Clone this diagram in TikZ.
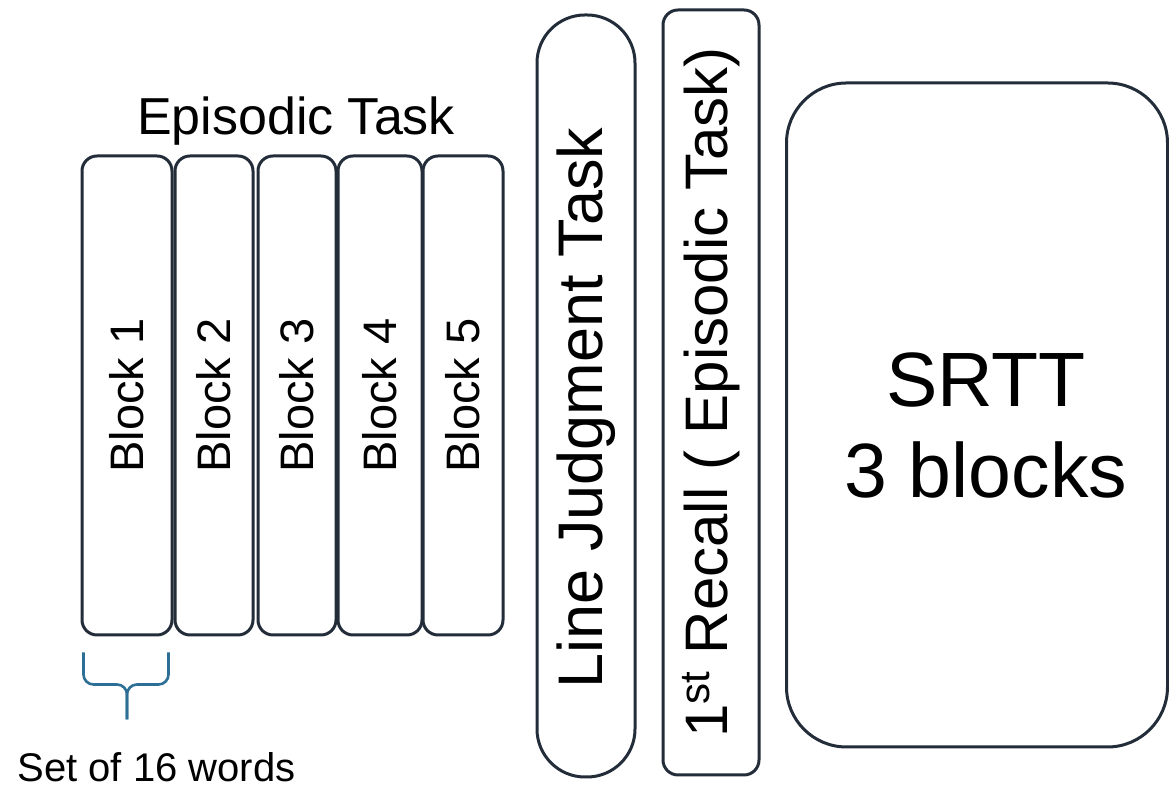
\documentclass[tikz,border=0pt]{standalone}
\usepackage{fontspec}
\setmainfont{Liberation Sans}
\usetikzlibrary{positioning, calc}
\definecolor{myline}{RGB}{35,45,58}
\definecolor{mybrace}{RGB}{45,110,150}
\tikzset{
  blockbox/.style={rectangle, draw=myline, line width=1.5pt,
    rounded corners=7.5pt, inner sep=0pt, minimum height=239.5pt,
    font=\fontsize{23.5}{28}\selectfont},
  pillbox/.style={rectangle, draw=myline, line width=1.5pt,
    rounded corners=24pt, inner sep=0pt, minimum width=49pt,
    minimum height=381pt, font=\fontsize{31.5}{36}\selectfont},
  tallbox/.style={rectangle, draw=myline, line width=1.5pt,
    rounded corners=7.5pt, inner sep=0pt, minimum width=48pt,
    minimum height=382.5pt, font=\fontsize{30}{35}\selectfont},
  bigbox/.style={rectangle, draw=myline, line width=1.5pt,
    rounded corners=30pt, inner sep=0pt, minimum width=190.5pt,
    minimum height=332pt},
  bracket/.style={draw=mybrace, line width=1.3pt, rounded corners=5pt},
  caption/.style={inner sep=0pt}
}

\begin{document}
\begin{tikzpicture}[x=0.5pt, y=0.5pt]
  \useasboundingbox (0,0) rectangle (1169,791);

  % Episodic task blocks
  \foreach \n/\cx/\w in {1/127/90, 2/214/78, 3/297/78, 4/380/84, 5/463/80}
    \node[blockbox, minimum width=\w*0.5pt] (b\n) at (\cx,395.5) {\rotatebox{90}{Block \n}};
  \node[caption, anchor=base, font=\fontsize{26}{30}\selectfont] (eptitle) at (296,656) {Episodic Task};

  % Brace under block 1
  \coordinate (brl) at ($(b1.south west)+(3,-16)$);
  \coordinate (brr) at ($(b1.south east)+(-5,-16)$);
  \coordinate (brmid) at ($(b1.south)+(0,-48)$);
  \coordinate (brtip) at ($(b1.south)+(0,-83)$);
  \draw[bracket] (brl) |- (brmid) -- (brtip);
  \draw[bracket] (brr) |- (brmid) -- (brtip);
  \node[caption, anchor=base west, font=\fontsize{20}{24}\selectfont] (setlabel) at (17,9) {Set of 16 words};

  % Line judgment and recall
  \node[pillbox] (ljt) at (586,395) {\rotatebox{90}{Line Judgment Task\hspace{12pt}}};
  \node[tallbox] (recall) at (711,398.5) {\rotatebox{90}{1\textsuperscript{st} Recall ( Episodic Task)}};

  % SRTT
  \node[bigbox] (srtt) at (977,376) {};
  \node[caption, align=center, font=\fontsize{38.5}{45.5}\selectfont] (srtttext)
    at ($(srtt.center)+(9,-11)$) {SRTT\\3 blocks};
\end{tikzpicture}
\end{document}
